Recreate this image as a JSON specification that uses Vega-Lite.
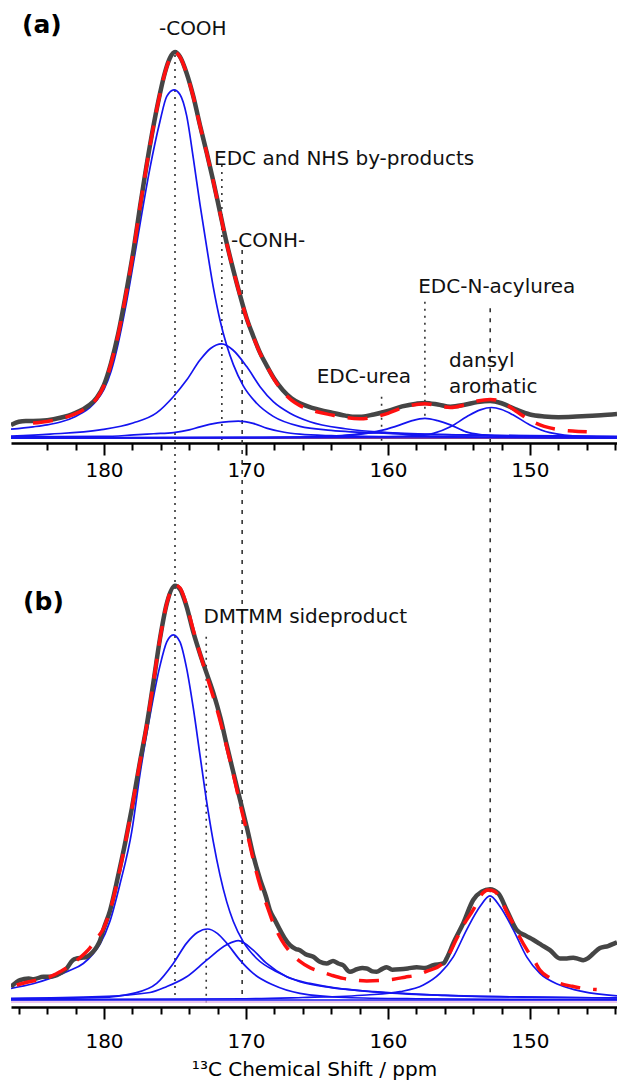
{
"$schema": "https://vega.github.io/schema/vega-lite/v6.json",
"width": 606,
"height": 1007,
"autosize": "none",
"padding": {"left": 11, "top": 0, "right": 0, "bottom": 77},
"background": "white",
"config": {
  "view": {"stroke": null},
  "axis": {"grid": false, "domainColor": "#000", "tickColor": "#000", "labelColor": "#000", "labelFont": "DejaVu Sans", "labelFontSize": 20, "titleFont": "DejaVu Sans", "titleColor": "#000", "domainWidth": 2.5, "tickWidth": 2}
},
"datasets": {
"curves": [
{"panel":"a","series":"exp","ppm":186.55,"intensity":3.4},{"panel":"a","series":"exp","ppm":186.0,"intensity":4.2},{"panel":"a","series":"exp","ppm":185.5,"intensity":4.4},{"panel":"a","series":"exp","ppm":185.0,"intensity":4.4},{"panel":"a","series":"exp","ppm":184.0,"intensity":4.6},{"panel":"a","series":"exp","ppm":183.0,"intensity":5.3},{"panel":"a","series":"exp","ppm":182.5,"intensity":5.8},{"panel":"a","series":"exp","ppm":182.0,"intensity":6.5},{"panel":"a","series":"exp","ppm":181.5,"intensity":7.4},{"panel":"a","series":"exp","ppm":181.0,"intensity":8.6},{"panel":"a","series":"exp","ppm":180.5,"intensity":10.5},{"panel":"a","series":"exp","ppm":180.0,"intensity":13.8},{"panel":"a","series":"exp","ppm":179.5,"intensity":19.5},{"panel":"a","series":"exp","ppm":179.0,"intensity":27.0},{"panel":"a","series":"exp","ppm":178.5,"intensity":36.5},{"panel":"a","series":"exp","ppm":177.92,"intensity":48.7},{"panel":"a","series":"exp","ppm":177.46,"intensity":60.0},{"panel":"a","series":"exp","ppm":176.76,"intensity":75.9},{"panel":"a","series":"exp","ppm":176.2,"intensity":86.8},{"panel":"a","series":"exp","ppm":175.7,"intensity":94.8},{"panel":"a","series":"exp","ppm":175.35,"intensity":98.5},{"panel":"a","series":"exp","ppm":175.0,"intensity":100},{"panel":"a","series":"exp","ppm":174.65,"intensity":98.8},{"panel":"a","series":"exp","ppm":174.18,"intensity":94.5},{"panel":"a","series":"exp","ppm":173.71,"intensity":88.5},{"panel":"a","series":"exp","ppm":173.24,"intensity":81},{"panel":"a","series":"exp","ppm":172.77,"intensity":74},{"panel":"a","series":"exp","ppm":172.3,"intensity":66.5},{"panel":"a","series":"exp","ppm":171.83,"intensity":58.5},{"panel":"a","series":"exp","ppm":171.36,"intensity":50.5},{"panel":"a","series":"exp","ppm":170.89,"intensity":43.5},{"panel":"a","series":"exp","ppm":170.42,"intensity":37},{"panel":"a","series":"exp","ppm":169.95,"intensity":31},{"panel":"a","series":"exp","ppm":169.5,"intensity":26.5},{"panel":"a","series":"exp","ppm":169.0,"intensity":22},{"panel":"a","series":"exp","ppm":168.5,"intensity":18.5},{"panel":"a","series":"exp","ppm":168.0,"intensity":15.3},{"panel":"a","series":"exp","ppm":167.4,"intensity":12.4},{"panel":"a","series":"exp","ppm":166.8,"intensity":10.3},{"panel":"a","series":"exp","ppm":166.2,"intensity":9.0},{"panel":"a","series":"exp","ppm":165.5,"intensity":8.0},{"panel":"a","series":"exp","ppm":165.0,"intensity":7.5},{"panel":"a","series":"exp","ppm":164.0,"intensity":6.6},{"panel":"a","series":"exp","ppm":163.0,"intensity":5.8},{"panel":"a","series":"exp","ppm":162.5,"intensity":5.5},{"panel":"a","series":"exp","ppm":162.0,"intensity":5.5},{"panel":"a","series":"exp","ppm":161.0,"intensity":6.1},{"panel":"a","series":"exp","ppm":160.0,"intensity":7.0},{"panel":"a","series":"exp","ppm":159.0,"intensity":8.2},{"panel":"a","series":"exp","ppm":158.0,"intensity":8.9},{"panel":"a","series":"exp","ppm":157.4,"intensity":9.1},{"panel":"a","series":"exp","ppm":156.5,"intensity":8.7},{"panel":"a","series":"exp","ppm":155.6,"intensity":8.1},{"panel":"a","series":"exp","ppm":154.6,"intensity":8.6},{"panel":"a","series":"exp","ppm":153.7,"intensity":9.3},{"panel":"a","series":"exp","ppm":152.8,"intensity":9.6},{"panel":"a","series":"exp","ppm":152.0,"intensity":9.0},{"panel":"a","series":"exp","ppm":151.0,"intensity":7.4},{"panel":"a","series":"exp","ppm":150.0,"intensity":6.1},{"panel":"a","series":"exp","ppm":149.0,"intensity":5.6},{"panel":"a","series":"exp","ppm":148.0,"intensity":5.4},{"panel":"a","series":"exp","ppm":147.0,"intensity":5.5},{"panel":"a","series":"exp","ppm":146.0,"intensity":5.7},{"panel":"a","series":"exp","ppm":145.0,"intensity":5.9},{"panel":"a","series":"exp","ppm":143.87,"intensity":6.2},

{"panel":"a","series":"fit","ppm":185.0,"intensity":3.9},{"panel":"a","series":"fit","ppm":184.0,"intensity":4.3},{"panel":"a","series":"fit","ppm":183.0,"intensity":5.0},{"panel":"a","series":"fit","ppm":182.5,"intensity":5.6},{"panel":"a","series":"fit","ppm":182.0,"intensity":6.3},{"panel":"a","series":"fit","ppm":181.5,"intensity":7.2},{"panel":"a","series":"fit","ppm":181.0,"intensity":8.4},{"panel":"a","series":"fit","ppm":180.5,"intensity":10.3},{"panel":"a","series":"fit","ppm":180.0,"intensity":13.6},{"panel":"a","series":"fit","ppm":179.5,"intensity":19.3},{"panel":"a","series":"fit","ppm":179.0,"intensity":26.8},{"panel":"a","series":"fit","ppm":178.5,"intensity":36.3},{"panel":"a","series":"fit","ppm":177.92,"intensity":48.6},{"panel":"a","series":"fit","ppm":177.46,"intensity":59.9},{"panel":"a","series":"fit","ppm":176.76,"intensity":75.8},{"panel":"a","series":"fit","ppm":176.2,"intensity":86.7},{"panel":"a","series":"fit","ppm":175.7,"intensity":94.7},{"panel":"a","series":"fit","ppm":175.35,"intensity":98.4},{"panel":"a","series":"fit","ppm":175.0,"intensity":99.9},{"panel":"a","series":"fit","ppm":174.65,"intensity":98.7},{"panel":"a","series":"fit","ppm":174.18,"intensity":94.4},{"panel":"a","series":"fit","ppm":173.71,"intensity":88.4},{"panel":"a","series":"fit","ppm":173.24,"intensity":80.9},{"panel":"a","series":"fit","ppm":172.77,"intensity":73.9},{"panel":"a","series":"fit","ppm":172.3,"intensity":66.4},{"panel":"a","series":"fit","ppm":171.83,"intensity":58.4},{"panel":"a","series":"fit","ppm":171.36,"intensity":50.4},{"panel":"a","series":"fit","ppm":170.89,"intensity":43.4},{"panel":"a","series":"fit","ppm":170.42,"intensity":36.9},{"panel":"a","series":"fit","ppm":169.95,"intensity":30.9},{"panel":"a","series":"fit","ppm":169.5,"intensity":26.4},{"panel":"a","series":"fit","ppm":169.0,"intensity":21.9},{"panel":"a","series":"fit","ppm":168.5,"intensity":18.4},{"panel":"a","series":"fit","ppm":168.0,"intensity":15.1},{"panel":"a","series":"fit","ppm":167.4,"intensity":12.0},{"panel":"a","series":"fit","ppm":166.8,"intensity":9.8},{"panel":"a","series":"fit","ppm":166.2,"intensity":8.4},{"panel":"a","series":"fit","ppm":165.5,"intensity":7.4},{"panel":"a","series":"fit","ppm":165.0,"intensity":6.8},{"panel":"a","series":"fit","ppm":164.0,"intensity":6.0},{"panel":"a","series":"fit","ppm":163.0,"intensity":5.3},{"panel":"a","series":"fit","ppm":162.0,"intensity":5.0},{"panel":"a","series":"fit","ppm":161.0,"intensity":5.4},{"panel":"a","series":"fit","ppm":160.0,"intensity":6.4},{"panel":"a","series":"fit","ppm":159.0,"intensity":7.8},{"panel":"a","series":"fit","ppm":158.0,"intensity":8.7},{"panel":"a","series":"fit","ppm":157.4,"intensity":8.9},{"panel":"a","series":"fit","ppm":156.5,"intensity":8.4},{"panel":"a","series":"fit","ppm":155.6,"intensity":7.9},{"panel":"a","series":"fit","ppm":154.6,"intensity":8.6},{"panel":"a","series":"fit","ppm":153.7,"intensity":9.6},{"panel":"a","series":"fit","ppm":152.8,"intensity":10.0},{"panel":"a","series":"fit","ppm":152.0,"intensity":9.4},{"panel":"a","series":"fit","ppm":151.0,"intensity":7.0},{"panel":"a","series":"fit","ppm":150.0,"intensity":4.6},{"panel":"a","series":"fit","ppm":149.0,"intensity":3.0},{"panel":"a","series":"fit","ppm":148.0,"intensity":2.2},{"panel":"a","series":"fit","ppm":147.0,"intensity":1.8},{"panel":"a","series":"fit","ppm":146.0,"intensity":1.6},

{"panel":"a","series":"C1","ppm":186.55,"intensity":2.3},{"panel":"a","series":"C1","ppm":185.0,"intensity":2.9},{"panel":"a","series":"C1","ppm":184.0,"intensity":3.4},{"panel":"a","series":"C1","ppm":183.0,"intensity":4.2},{"panel":"a","series":"C1","ppm":182.0,"intensity":5.6},{"panel":"a","series":"C1","ppm":181.5,"intensity":6.6},{"panel":"a","series":"C1","ppm":181.0,"intensity":7.9},{"panel":"a","series":"C1","ppm":180.5,"intensity":9.8},{"panel":"a","series":"C1","ppm":180.0,"intensity":12.6},{"panel":"a","series":"C1","ppm":179.5,"intensity":17.3},{"panel":"a","series":"C1","ppm":179.0,"intensity":24.5},{"panel":"a","series":"C1","ppm":178.5,"intensity":33.5},{"panel":"a","series":"C1","ppm":178.0,"intensity":43.8},{"panel":"a","series":"C1","ppm":177.46,"intensity":55.5},{"panel":"a","series":"C1","ppm":176.76,"intensity":70},{"panel":"a","series":"C1","ppm":176.06,"intensity":82},{"panel":"a","series":"C1","ppm":175.58,"intensity":88.5},{"panel":"a","series":"C1","ppm":175.07,"intensity":90.2},{"panel":"a","series":"C1","ppm":174.65,"intensity":89.0},{"panel":"a","series":"C1","ppm":174.18,"intensity":83.5},{"panel":"a","series":"C1","ppm":173.71,"intensity":72.5},{"panel":"a","series":"C1","ppm":173.24,"intensity":60.5},{"panel":"a","series":"C1","ppm":172.77,"intensity":49.5},{"panel":"a","series":"C1","ppm":172.3,"intensity":39.0},{"panel":"a","series":"C1","ppm":171.83,"intensity":30.5},{"panel":"a","series":"C1","ppm":171.36,"intensity":24.0},{"panel":"a","series":"C1","ppm":170.89,"intensity":19.0},{"panel":"a","series":"C1","ppm":170.19,"intensity":13.5},{"panel":"a","series":"C1","ppm":169.25,"intensity":9.0},{"panel":"a","series":"C1","ppm":168.08,"intensity":5.6},{"panel":"a","series":"C1","ppm":166.2,"intensity":3.0},{"panel":"a","series":"C1","ppm":164.0,"intensity":2.0},{"panel":"a","series":"C1","ppm":160.0,"intensity":1.2},{"panel":"a","series":"C1","ppm":155.0,"intensity":0.8},{"panel":"a","series":"C1","ppm":150.0,"intensity":0.6},{"panel":"a","series":"C1","ppm":143.87,"intensity":0.4},

{"panel":"a","series":"C2","ppm":186.55,"intensity":0.5},{"panel":"a","series":"C2","ppm":183.8,"intensity":1.0},{"panel":"a","series":"C2","ppm":180.28,"intensity":2.1},{"panel":"a","series":"C2","ppm":177.96,"intensity":3.9},{"panel":"a","series":"C2","ppm":176.3,"intensity":6.5},{"panel":"a","series":"C2","ppm":175.12,"intensity":10.7},{"panel":"a","series":"C2","ppm":174.18,"intensity":15.0},{"panel":"a","series":"C2","ppm":173.24,"intensity":20.2},{"panel":"a","series":"C2","ppm":172.5,"intensity":23.2},{"panel":"a","series":"C2","ppm":171.71,"intensity":24.4},{"panel":"a","series":"C2","ppm":170.92,"intensity":22.8},{"panel":"a","series":"C2","ppm":169.95,"intensity":18.5},{"panel":"a","series":"C2","ppm":169.01,"intensity":13.3},{"panel":"a","series":"C2","ppm":168.08,"intensity":9.4},{"panel":"a","series":"C2","ppm":166.9,"intensity":6.4},{"panel":"a","series":"C2","ppm":165.5,"intensity":4.2},{"panel":"a","series":"C2","ppm":163.0,"intensity":2.4},{"panel":"a","series":"C2","ppm":160.0,"intensity":1.4},{"panel":"a","series":"C2","ppm":155.0,"intensity":0.8},{"panel":"a","series":"C2","ppm":150.0,"intensity":0.5},{"panel":"a","series":"C2","ppm":143.87,"intensity":0.3},

{"panel":"a","series":"C3","ppm":186.55,"intensity":0.3},{"panel":"a","series":"C3","ppm":180.0,"intensity":0.4},{"panel":"a","series":"C3","ppm":177.9,"intensity":0.8},{"panel":"a","series":"C3","ppm":176.5,"intensity":1.1},{"panel":"a","series":"C3","ppm":175.1,"intensity":1.4},{"panel":"a","series":"C3","ppm":174.0,"intensity":2.1},{"panel":"a","series":"C3","ppm":173.24,"intensity":2.9},{"panel":"a","series":"C3","ppm":172.0,"intensity":3.9},{"panel":"a","series":"C3","ppm":170.54,"intensity":4.4},{"panel":"a","series":"C3","ppm":169.5,"intensity":3.8},{"panel":"a","series":"C3","ppm":168.5,"intensity":2.5},{"panel":"a","series":"C3","ppm":167.3,"intensity":1.5},{"panel":"a","series":"C3","ppm":166.2,"intensity":1.0},{"panel":"a","series":"C3","ppm":164.0,"intensity":0.6},{"panel":"a","series":"C3","ppm":160.0,"intensity":0.35},{"panel":"a","series":"C3","ppm":150.0,"intensity":0.2},{"panel":"a","series":"C3","ppm":143.87,"intensity":0.15},

{"panel":"a","series":"C4","ppm":186.55,"intensity":0.05},{"panel":"a","series":"C4","ppm":170.0,"intensity":0.1},{"panel":"a","series":"C4","ppm":166.0,"intensity":0.2},{"panel":"a","series":"C4","ppm":164.0,"intensity":0.5},{"panel":"a","series":"C4","ppm":162.5,"intensity":0.9},{"panel":"a","series":"C4","ppm":161.3,"intensity":1.3},{"panel":"a","series":"C4","ppm":160.5,"intensity":1.4},{"panel":"a","series":"C4","ppm":159.5,"intensity":1.2},{"panel":"a","series":"C4","ppm":158.5,"intensity":0.8},{"panel":"a","series":"C4","ppm":157.0,"intensity":0.4},{"panel":"a","series":"C4","ppm":155.0,"intensity":0.2},{"panel":"a","series":"C4","ppm":150.0,"intensity":0.1},{"panel":"a","series":"C4","ppm":143.87,"intensity":0.05},

{"panel":"a","series":"C5","ppm":186.55,"intensity":0.05},{"panel":"a","series":"C5","ppm":170.0,"intensity":0.15},{"panel":"a","series":"C5","ppm":165.0,"intensity":0.3},{"panel":"a","series":"C5","ppm":163.0,"intensity":0.6},{"panel":"a","series":"C5","ppm":161.5,"intensity":1.2},{"panel":"a","series":"C5","ppm":160.3,"intensity":2.1},{"panel":"a","series":"C5","ppm":159.15,"intensity":3.4},{"panel":"a","series":"C5","ppm":158.3,"intensity":4.5},{"panel":"a","series":"C5","ppm":157.4,"intensity":5.1},{"panel":"a","series":"C5","ppm":156.5,"intensity":4.5},{"panel":"a","series":"C5","ppm":155.6,"intensity":3.4},{"panel":"a","series":"C5","ppm":154.5,"intensity":1.6},{"panel":"a","series":"C5","ppm":153.3,"intensity":0.8},{"panel":"a","series":"C5","ppm":151.5,"intensity":0.35},{"panel":"a","series":"C5","ppm":148.0,"intensity":0.15},{"panel":"a","series":"C5","ppm":143.87,"intensity":0.05},

{"panel":"a","series":"C6","ppm":186.55,"intensity":0.05},{"panel":"a","series":"C6","ppm":165.0,"intensity":0.15},{"panel":"a","series":"C6","ppm":160.0,"intensity":0.3},{"panel":"a","series":"C6","ppm":158.0,"intensity":0.6},{"panel":"a","series":"C6","ppm":156.8,"intensity":1.2},{"panel":"a","series":"C6","ppm":155.6,"intensity":2.9},{"panel":"a","series":"C6","ppm":154.46,"intensity":5.5},{"panel":"a","series":"C6","ppm":153.5,"intensity":7.3},{"panel":"a","series":"C6","ppm":152.7,"intensity":7.9},{"panel":"a","series":"C6","ppm":152.0,"intensity":7.4},{"panel":"a","series":"C6","ppm":151.2,"intensity":6.0},{"panel":"a","series":"C6","ppm":150.0,"intensity":3.4},{"panel":"a","series":"C6","ppm":148.6,"intensity":1.4},{"panel":"a","series":"C6","ppm":146.3,"intensity":0.4},{"panel":"a","series":"C6","ppm":143.87,"intensity":0.2},

{"panel":"a","series":"baseline","ppm":186.55,"intensity":0},{"panel":"a","series":"baseline","ppm":143.87,"intensity":0},

{"panel":"b","series":"exp","ppm":186.55,"intensity":3.2},{"panel":"b","series":"exp","ppm":185.92,"intensity":4.8},{"panel":"b","series":"exp","ppm":185.3,"intensity":5.2},{"panel":"b","series":"exp","ppm":184.98,"intensity":5.0},{"panel":"b","series":"exp","ppm":184.27,"intensity":5.6},{"panel":"b","series":"exp","ppm":183.8,"intensity":5.6},{"panel":"b","series":"exp","ppm":183.33,"intensity":6.0},{"panel":"b","series":"exp","ppm":182.63,"intensity":7.6},{"panel":"b","series":"exp","ppm":182.2,"intensity":9.6},{"panel":"b","series":"exp","ppm":181.92,"intensity":10.0},{"panel":"b","series":"exp","ppm":181.5,"intensity":10.2},{"panel":"b","series":"exp","ppm":181.22,"intensity":10.4},{"panel":"b","series":"exp","ppm":180.8,"intensity":11.5},{"panel":"b","series":"exp","ppm":180.51,"intensity":12.8},{"panel":"b","series":"exp","ppm":180.28,"intensity":14.3},{"panel":"b","series":"exp","ppm":180.05,"intensity":16.9},{"panel":"b","series":"exp","ppm":179.58,"intensity":21.5},{"panel":"b","series":"exp","ppm":179.0,"intensity":30.0},{"panel":"b","series":"exp","ppm":178.5,"intensity":38.0},{"panel":"b","series":"exp","ppm":178.05,"intensity":46.0},{"panel":"b","series":"exp","ppm":177.46,"intensity":57.5},{"panel":"b","series":"exp","ppm":177.0,"intensity":66.0},{"panel":"b","series":"exp","ppm":176.5,"intensity":77.0},{"panel":"b","series":"exp","ppm":176.06,"intensity":87.0},{"panel":"b","series":"exp","ppm":175.58,"intensity":95.5},{"panel":"b","series":"exp","ppm":175.0,"intensity":99.8},{"panel":"b","series":"exp","ppm":174.65,"intensity":99.0},{"panel":"b","series":"exp","ppm":174.2,"intensity":95.0},{"panel":"b","series":"exp","ppm":173.7,"intensity":88.5},{"panel":"b","series":"exp","ppm":173.2,"intensity":83.0},{"panel":"b","series":"exp","ppm":172.8,"intensity":79.0},{"panel":"b","series":"exp","ppm":172.3,"intensity":74.0},{"panel":"b","series":"exp","ppm":171.8,"intensity":68.0},{"panel":"b","series":"exp","ppm":171.36,"intensity":61.5},{"panel":"b","series":"exp","ppm":170.9,"intensity":55.0},{"panel":"b","series":"exp","ppm":170.4,"intensity":48.0},{"panel":"b","series":"exp","ppm":169.9,"intensity":41.0},{"panel":"b","series":"exp","ppm":169.5,"intensity":35.0},{"panel":"b","series":"exp","ppm":169.0,"intensity":29.0},{"panel":"b","series":"exp","ppm":168.6,"intensity":25.0},{"panel":"b","series":"exp","ppm":168.3,"intensity":21.5},{"panel":"b","series":"exp","ppm":168.0,"intensity":19.5},{"panel":"b","series":"exp","ppm":167.7,"intensity":17.5},{"panel":"b","series":"exp","ppm":167.3,"intensity":15.0},{"panel":"b","series":"exp","ppm":166.9,"intensity":13.2},{"panel":"b","series":"exp","ppm":166.5,"intensity":12.3},{"panel":"b","series":"exp","ppm":166.2,"intensity":12.0},{"panel":"b","series":"exp","ppm":165.8,"intensity":11.0},{"panel":"b","series":"exp","ppm":165.26,"intensity":10.4},{"panel":"b","series":"exp","ppm":164.8,"intensity":9.2},{"panel":"b","series":"exp","ppm":164.32,"intensity":8.8},{"panel":"b","series":"exp","ppm":163.87,"intensity":9.4},{"panel":"b","series":"exp","ppm":163.5,"intensity":8.8},{"panel":"b","series":"exp","ppm":163.17,"intensity":8.4},{"panel":"b","series":"exp","ppm":162.68,"intensity":6.8},{"panel":"b","series":"exp","ppm":162.2,"intensity":7.4},{"panel":"b","series":"exp","ppm":161.8,"intensity":7.7},{"panel":"b","series":"exp","ppm":161.5,"intensity":7.6},{"panel":"b","series":"exp","ppm":161.1,"intensity":6.9},{"panel":"b","series":"exp","ppm":160.8,"intensity":6.8},{"panel":"b","series":"exp","ppm":160.4,"intensity":7.5},{"panel":"b","series":"exp","ppm":160.09,"intensity":7.9},{"panel":"b","series":"exp","ppm":159.7,"intensity":7.3},{"panel":"b","series":"exp","ppm":159.15,"intensity":7.4},{"panel":"b","series":"exp","ppm":158.6,"intensity":7.6},{"panel":"b","series":"exp","ppm":157.98,"intensity":7.9},{"panel":"b","series":"exp","ppm":157.4,"intensity":7.7},{"panel":"b","series":"exp","ppm":156.81,"intensity":8.4},{"panel":"b","series":"exp","ppm":156.1,"intensity":8.8},{"panel":"b","series":"exp","ppm":155.8,"intensity":10.5},{"panel":"b","series":"exp","ppm":155.4,"intensity":13.7},{"panel":"b","series":"exp","ppm":154.7,"intensity":18.5},{"panel":"b","series":"exp","ppm":154.0,"intensity":24.1},{"panel":"b","series":"exp","ppm":153.4,"intensity":26.1},{"panel":"b","series":"exp","ppm":152.82,"intensity":26.7},{"panel":"b","series":"exp","ppm":152.23,"intensity":25.7},{"panel":"b","series":"exp","ppm":151.64,"intensity":21.7},{"panel":"b","series":"exp","ppm":150.94,"intensity":16.9},{"panel":"b","series":"exp","ppm":150.3,"intensity":15.5},{"panel":"b","series":"exp","ppm":149.77,"intensity":14.5},{"panel":"b","series":"exp","ppm":149.2,"intensity":13.3},{"panel":"b","series":"exp","ppm":148.59,"intensity":12.0},{"panel":"b","series":"exp","ppm":147.89,"intensity":10.0},{"panel":"b","series":"exp","ppm":147.4,"intensity":10.0},{"panel":"b","series":"exp","ppm":146.95,"intensity":10.2},{"panel":"b","series":"exp","ppm":146.6,"intensity":9.9},{"panel":"b","series":"exp","ppm":146.25,"intensity":9.6},{"panel":"b","series":"exp","ppm":145.9,"intensity":10.1},{"panel":"b","series":"exp","ppm":145.54,"intensity":11.2},{"panel":"b","series":"exp","ppm":145.07,"intensity":12.5},{"panel":"b","series":"exp","ppm":144.5,"intensity":13.0},{"panel":"b","series":"exp","ppm":144.01,"intensity":13.7},{"panel":"b","series":"exp","ppm":143.87,"intensity":13.9},

{"panel":"b","series":"fit","ppm":186.15,"intensity":3.6},{"panel":"b","series":"fit","ppm":185.5,"intensity":4.2},{"panel":"b","series":"fit","ppm":184.5,"intensity":5.0},{"panel":"b","series":"fit","ppm":183.8,"intensity":5.6},{"panel":"b","series":"fit","ppm":183.1,"intensity":6.8},{"panel":"b","series":"fit","ppm":182.5,"intensity":8.0},{"panel":"b","series":"fit","ppm":181.9,"intensity":9.6},{"panel":"b","series":"fit","ppm":181.0,"intensity":12.5},{"panel":"b","series":"fit","ppm":180.5,"intensity":14.8},{"panel":"b","series":"fit","ppm":180.0,"intensity":17.5},{"panel":"b","series":"fit","ppm":179.5,"intensity":22.5},{"panel":"b","series":"fit","ppm":179.0,"intensity":29.5},{"panel":"b","series":"fit","ppm":178.5,"intensity":37.8},{"panel":"b","series":"fit","ppm":178.05,"intensity":46.0},{"panel":"b","series":"fit","ppm":177.46,"intensity":57.5},{"panel":"b","series":"fit","ppm":177.0,"intensity":66.0},{"panel":"b","series":"fit","ppm":176.5,"intensity":77.0},{"panel":"b","series":"fit","ppm":176.06,"intensity":87.0},{"panel":"b","series":"fit","ppm":175.58,"intensity":95.5},{"panel":"b","series":"fit","ppm":175.0,"intensity":100},{"panel":"b","series":"fit","ppm":174.65,"intensity":99.3},{"panel":"b","series":"fit","ppm":174.2,"intensity":95.3},{"panel":"b","series":"fit","ppm":173.7,"intensity":89.0},{"panel":"b","series":"fit","ppm":173.2,"intensity":83.0},{"panel":"b","series":"fit","ppm":172.8,"intensity":78.5},{"panel":"b","series":"fit","ppm":172.3,"intensity":73.0},{"panel":"b","series":"fit","ppm":171.8,"intensity":67.0},{"panel":"b","series":"fit","ppm":171.36,"intensity":61.0},{"panel":"b","series":"fit","ppm":170.9,"intensity":54.5},{"panel":"b","series":"fit","ppm":170.4,"intensity":47.0},{"panel":"b","series":"fit","ppm":169.9,"intensity":40.0},{"panel":"b","series":"fit","ppm":169.5,"intensity":34.0},{"panel":"b","series":"fit","ppm":169.0,"intensity":27.5},{"panel":"b","series":"fit","ppm":168.5,"intensity":22.5},{"panel":"b","series":"fit","ppm":168.08,"intensity":18.5},{"panel":"b","series":"fit","ppm":167.5,"intensity":14.5},{"panel":"b","series":"fit","ppm":167.0,"intensity":12.0},{"panel":"b","series":"fit","ppm":166.2,"intensity":9.3},{"panel":"b","series":"fit","ppm":165.5,"intensity":7.8},{"panel":"b","series":"fit","ppm":164.8,"intensity":6.9},{"panel":"b","series":"fit","ppm":164.0,"intensity":6.0},{"panel":"b","series":"fit","ppm":163.15,"intensity":5.2},{"panel":"b","series":"fit","ppm":162.3,"intensity":4.8},{"panel":"b","series":"fit","ppm":161.5,"intensity":4.6},{"panel":"b","series":"fit","ppm":160.5,"intensity":4.7},{"panel":"b","series":"fit","ppm":159.6,"intensity":5.0},{"panel":"b","series":"fit","ppm":158.8,"intensity":5.5},{"panel":"b","series":"fit","ppm":158.0,"intensity":6.0},{"panel":"b","series":"fit","ppm":157.2,"intensity":7.0},{"panel":"b","series":"fit","ppm":156.3,"intensity":8.4},{"panel":"b","series":"fit","ppm":155.7,"intensity":11.0},{"panel":"b","series":"fit","ppm":155.2,"intensity":14.5},{"panel":"b","series":"fit","ppm":154.6,"intensity":18.5},{"panel":"b","series":"fit","ppm":154.0,"intensity":21.7},{"panel":"b","series":"fit","ppm":153.5,"intensity":25.0},{"panel":"b","series":"fit","ppm":152.94,"intensity":26.5},{"panel":"b","series":"fit","ppm":152.5,"intensity":26.2},{"panel":"b","series":"fit","ppm":152.1,"intensity":24.5},{"panel":"b","series":"fit","ppm":151.6,"intensity":21.0},{"panel":"b","series":"fit","ppm":151.2,"intensity":18.5},{"panel":"b","series":"fit","ppm":150.7,"intensity":15.0},{"panel":"b","series":"fit","ppm":150.2,"intensity":12.0},{"panel":"b","series":"fit","ppm":149.7,"intensity":9.5},{"panel":"b","series":"fit","ppm":149.3,"intensity":7.2},{"panel":"b","series":"fit","ppm":148.6,"intensity":5.3},{"panel":"b","series":"fit","ppm":147.9,"intensity":4.0},{"panel":"b","series":"fit","ppm":147.0,"intensity":3.3},{"panel":"b","series":"fit","ppm":146.25,"intensity":2.8},{"panel":"b","series":"fit","ppm":145.3,"intensity":2.5},

{"panel":"b","series":"C1","ppm":186.55,"intensity":2.8},{"panel":"b","series":"C1","ppm":185.0,"intensity":3.9},{"panel":"b","series":"C1","ppm":183.8,"intensity":5.2},{"panel":"b","series":"C1","ppm":182.5,"intensity":7.0},{"panel":"b","series":"C1","ppm":181.46,"intensity":8.8},{"panel":"b","series":"C1","ppm":180.8,"intensity":11.0},{"panel":"b","series":"C1","ppm":180.28,"intensity":13.5},{"panel":"b","series":"C1","ppm":179.58,"intensity":19.0},{"panel":"b","series":"C1","ppm":178.87,"intensity":28.0},{"panel":"b","series":"C1","ppm":178.05,"intensity":40.5},{"panel":"b","series":"C1","ppm":177.46,"intensity":54.5},{"panel":"b","series":"C1","ppm":176.76,"intensity":68.5},{"panel":"b","series":"C1","ppm":176.06,"intensity":80.5},{"panel":"b","series":"C1","ppm":175.58,"intensity":86.3},{"panel":"b","series":"C1","ppm":175.12,"intensity":88.0},{"panel":"b","series":"C1","ppm":174.65,"intensity":86.3},{"panel":"b","series":"C1","ppm":174.18,"intensity":79.9},{"panel":"b","series":"C1","ppm":173.71,"intensity":70.3},{"panel":"b","series":"C1","ppm":173.24,"intensity":59.0},{"panel":"b","series":"C1","ppm":172.77,"intensity":47.8},{"panel":"b","series":"C1","ppm":172.3,"intensity":38.1},{"panel":"b","series":"C1","ppm":171.83,"intensity":30.1},{"panel":"b","series":"C1","ppm":171.36,"intensity":23.7},{"panel":"b","series":"C1","ppm":170.89,"intensity":18.9},{"panel":"b","series":"C1","ppm":170.19,"intensity":14.0},{"panel":"b","series":"C1","ppm":169.25,"intensity":10.0},{"panel":"b","series":"C1","ppm":167.84,"intensity":6.8},{"panel":"b","series":"C1","ppm":166.2,"intensity":4.4},{"panel":"b","series":"C1","ppm":164.0,"intensity":3.0},{"panel":"b","series":"C1","ppm":161.0,"intensity":2.0},{"panel":"b","series":"C1","ppm":158.0,"intensity":1.4},{"panel":"b","series":"C1","ppm":155.0,"intensity":1.0},{"panel":"b","series":"C1","ppm":150.0,"intensity":0.7},{"panel":"b","series":"C1","ppm":143.87,"intensity":0.5},

{"panel":"b","series":"C2","ppm":186.55,"intensity":0.2},{"panel":"b","series":"C2","ppm":180.3,"intensity":0.6},{"panel":"b","series":"C2","ppm":177.94,"intensity":1.6},{"panel":"b","series":"C2","ppm":176.29,"intensity":4.0},{"panel":"b","series":"C2","ppm":175.12,"intensity":8.8},{"panel":"b","series":"C2","ppm":174.18,"intensity":13.7},{"panel":"b","series":"C2","ppm":173.4,"intensity":16.3},{"panel":"b","series":"C2","ppm":172.72,"intensity":17.1},{"panel":"b","series":"C2","ppm":172.0,"intensity":16.0},{"panel":"b","series":"C2","ppm":171.36,"intensity":13.7},{"panel":"b","series":"C2","ppm":170.42,"intensity":9.6},{"panel":"b","series":"C2","ppm":169.49,"intensity":6.4},{"panel":"b","series":"C2","ppm":168.08,"intensity":3.6},{"panel":"b","series":"C2","ppm":166.2,"intensity":1.6},{"panel":"b","series":"C2","ppm":163.0,"intensity":0.6},{"panel":"b","series":"C2","ppm":158.0,"intensity":0.3},{"panel":"b","series":"C2","ppm":150.0,"intensity":0.15},{"panel":"b","series":"C2","ppm":143.87,"intensity":0.1},

{"panel":"b","series":"C3","ppm":186.55,"intensity":0.4},{"panel":"b","series":"C3","ppm":180.3,"intensity":0.8},{"panel":"b","series":"C3","ppm":176.76,"intensity":1.8},{"panel":"b","series":"C3","ppm":175.6,"intensity":3.2},{"panel":"b","series":"C3","ppm":174.18,"intensity":5.6},{"panel":"b","series":"C3","ppm":172.77,"intensity":9.6},{"panel":"b","series":"C3","ppm":171.36,"intensity":13.3},{"panel":"b","series":"C3","ppm":170.54,"intensity":14.3},{"panel":"b","series":"C3","ppm":169.49,"intensity":12.0},{"panel":"b","series":"C3","ppm":168.54,"intensity":8.8},{"panel":"b","series":"C3","ppm":167.13,"intensity":5.6},{"panel":"b","series":"C3","ppm":165.5,"intensity":4.0},{"panel":"b","series":"C3","ppm":163.0,"intensity":2.6},{"panel":"b","series":"C3","ppm":160.0,"intensity":1.7},{"panel":"b","series":"C3","ppm":156.0,"intensity":1.1},{"panel":"b","series":"C3","ppm":150.0,"intensity":0.7},{"panel":"b","series":"C3","ppm":143.87,"intensity":0.5},

{"panel":"b","series":"C4","ppm":186.55,"intensity":0.1},{"panel":"b","series":"C4","ppm":170.0,"intensity":0.3},{"panel":"b","series":"C4","ppm":166.0,"intensity":0.6},{"panel":"b","series":"C4","ppm":163.0,"intensity":0.9},{"panel":"b","series":"C4","ppm":161.5,"intensity":1.2},{"panel":"b","series":"C4","ppm":159.15,"intensity":2.0},{"panel":"b","series":"C4","ppm":157.51,"intensity":3.6},{"panel":"b","series":"C4","ppm":156.34,"intensity":6.4},{"panel":"b","series":"C4","ppm":155.4,"intensity":10.4},{"panel":"b","series":"C4","ppm":154.46,"intensity":16.9},{"panel":"b","series":"C4","ppm":153.52,"intensity":22.5},{"panel":"b","series":"C4","ppm":152.82,"intensity":25.1},{"panel":"b","series":"C4","ppm":152.11,"intensity":22.5},{"panel":"b","series":"C4","ppm":151.17,"intensity":16.9},{"panel":"b","series":"C4","ppm":150.23,"intensity":10.4},{"panel":"b","series":"C4","ppm":149.3,"intensity":6.4},{"panel":"b","series":"C4","ppm":147.9,"intensity":3.6},{"panel":"b","series":"C4","ppm":146.25,"intensity":2.0},{"panel":"b","series":"C4","ppm":143.87,"intensity":1.0},

{"panel":"b","series":"baseline","ppm":186.55,"intensity":0},{"panel":"b","series":"baseline","ppm":143.87,"intensity":0},
{"panel":"b","series":"offset","ppm":186.55,"intensity":-0.5},{"panel":"b","series":"offset","ppm":143.87,"intensity":-0.5}
],
"rules": [
{"panel":"a","ppm":171.7,"top":70.7,"bottom":-1.0,"kind":"dotted"},
{"panel":"a","ppm":160.45,"top":10.7,"bottom":-1.3,"kind":"dotted"},
{"panel":"a","ppm":157.4,"top":35.3,"bottom":5.5,"kind":"dotted"},
{"panel":"b","ppm":175.0,"top":227.7,"bottom":0.5,"kind":"dotted"},
{"panel":"b","ppm":170.27,"top":180.7,"bottom":0.8,"kind":"dashed"},
{"panel":"b","ppm":152.8,"top":166.7,"bottom":1.2,"kind":"dashed"},
{"panel":"b","ppm":172.8,"top":87.5,"bottom":-1.7,"kind":"dotted"}
],
"labels": [
{"panel":"a","weight":"normal","label":"-COOH","ppm":176.13,"intensity":104.4},
{"panel":"a","weight":"normal","label":"EDC and NHS by-products","ppm":172.25,"intensity":70.7},
{"panel":"a","weight":"normal","label":"-CONH-","ppm":171.05,"intensity":49.6},
{"panel":"a","weight":"normal","label":"EDC-urea","ppm":165.02,"intensity":14.2},
{"panel":"a","weight":"normal","label":"EDC-N-acylurea","ppm":157.87,"intensity":37.5},
{"panel":"a","weight":"normal","label":"dansyl","ppm":155.7,"intensity":18.5},
{"panel":"a","weight":"normal","label":"aromatic","ppm":155.7,"intensity":11.7},
{"panel":"a","weight":"bold","label":"(a)","ppm":185.77,"intensity":104.8},
{"panel":"b","weight":"normal","label":"DMTMM sideproduct","ppm":173.0,"intensity":90.9},
{"panel":"b","weight":"bold","label":"(b)","ppm":185.7,"intensity":94.0}
]
},
"resolve": {"scale": {"x": "shared", "y": "independent"}, "axis": {"x": "independent", "y": "independent"}},
"layer": [
{"data": {"name": "rules"}, "transform": [{"filter": "datum.panel === 'a'"}],
 "mark": {"type": "rule", "color": "#333333", "strokeWidth": 1.6},
 "encoding": {
  "x": {"field": "ppm", "type": "quantitative", "scale": {"domain": [143.87, 186.55], "reverse": true, "nice": false, "zero": false}, "axis": null},
  "y": {"field": "top", "type": "quantitative", "scale": {"domain": [-147.4, 113.47], "nice": false, "zero": false}, "axis": null},
  "y2": {"field": "bottom"},
  "strokeDash": {"field": "kind", "type": "nominal", "scale": {"domain": ["dotted", "dashed"], "range": [[2, 5], [4, 6]]}, "legend": null}}},
{"data": {"name": "rules"}, "transform": [{"filter": "datum.panel === 'b'"}],
 "mark": {"type": "rule", "color": "#333333", "strokeWidth": 1.6},
 "encoding": {
  "x": {"field": "ppm", "type": "quantitative", "scale": {"domain": [143.87, 186.55], "reverse": true, "nice": false, "zero": false}, "axis": null},
  "y": {"field": "top", "type": "quantitative", "scale": {"domain": [-1.69, 240.96], "nice": false, "zero": false}, "axis": null},
  "y2": {"field": "bottom"},
  "strokeDash": {"field": "kind", "type": "nominal", "scale": {"domain": ["dotted", "dashed"], "range": [[2, 5], [4, 6]]}, "legend": null}}},
{"data": {"name": "curves"}, "transform": [{"filter": "datum.panel === 'a' && datum.series === 'baseline'"}],
 "mark": {"type": "line", "color": "#7b3fa0", "strokeWidth": 2, "clip": true},
 "encoding": {
  "x": {"field": "ppm", "type": "quantitative", "scale": {"domain": [143.87, 186.55], "reverse": true, "nice": false, "zero": false}, "axis": null},
  "y": {"field": "intensity", "type": "quantitative", "scale": {"domain": [-147.4, 113.47], "nice": false, "zero": false}, "axis": null}}},
{"data": {"name": "curves"}, "transform": [{"filter": "datum.panel === 'a' && indexof(['C1','C2','C3','C4','C5','C6'], datum.series) >= 0"}],
 "mark": {"type": "line", "color": "#1414f0", "strokeWidth": 1.7, "interpolate": "monotone", "clip": true},
 "encoding": {
  "x": {"field": "ppm", "type": "quantitative", "scale": {"domain": [143.87, 186.55], "reverse": true, "nice": false, "zero": false}, "axis": null},
  "y": {"field": "intensity", "type": "quantitative", "scale": {"domain": [-147.4, 113.47], "nice": false, "zero": false}, "axis": null},
  "detail": {"field": "series", "type": "nominal"}}},
{"data": {"name": "curves"}, "transform": [{"filter": "datum.panel === 'b' && datum.series === 'offset'"}],
 "mark": {"type": "line", "color": "#e6b3e6", "strokeWidth": 1.5, "clip": true},
 "encoding": {
  "x": {"field": "ppm", "type": "quantitative", "scale": {"domain": [143.87, 186.55], "reverse": true, "nice": false, "zero": false}, "axis": null},
  "y": {"field": "intensity", "type": "quantitative", "scale": {"domain": [-1.69, 240.96], "nice": false, "zero": false}, "axis": null}}},
{"data": {"name": "curves"}, "transform": [{"filter": "datum.panel === 'b' && indexof(['C1','C2','C3','C4','baseline'], datum.series) >= 0"}],
 "mark": {"type": "line", "color": "#1414f0", "strokeWidth": 1.7, "interpolate": "monotone", "clip": true},
 "encoding": {
  "x": {"field": "ppm", "type": "quantitative", "scale": {"domain": [143.87, 186.55], "reverse": true, "nice": false, "zero": false}, "axis": null},
  "y": {"field": "intensity", "type": "quantitative", "scale": {"domain": [-1.69, 240.96], "nice": false, "zero": false}, "axis": null},
  "detail": {"field": "series", "type": "nominal"}}},
{"data": {"name": "curves"}, "transform": [{"filter": "datum.panel === 'a' && datum.series === 'exp'"}],
 "mark": {"type": "line", "color": "#454545", "strokeWidth": 4.5, "interpolate": "monotone", "clip": true},
 "encoding": {
  "x": {"field": "ppm", "type": "quantitative", "scale": {"domain": [143.87, 186.55], "reverse": true, "nice": false, "zero": false},
        "axis": {"orient": "bottom", "offset": -564, "values": [180, 170, 160, 150], "tickSize": 12, "labelPadding": 5, "title": null}},
  "y": {"field": "intensity", "type": "quantitative", "scale": {"domain": [-147.4, 113.47], "nice": false, "zero": false}, "axis": null}}},
{"data": {"name": "curves"}, "transform": [{"filter": "datum.panel === 'a' && datum.series === 'fit'"}],
 "mark": {"type": "line", "color": "#ff1010", "strokeWidth": 3.5, "strokeDash": [20, 13], "interpolate": "monotone", "clip": true},
 "encoding": {
  "x": {"field": "ppm", "type": "quantitative", "scale": {"domain": [143.87, 186.55], "reverse": true, "nice": false, "zero": false},
        "axis": {"orient": "bottom", "offset": -564, "values": [184, 182, 178, 176, 174, 172, 168, 166, 164, 162, 158, 156, 154, 152, 148, 146, 144], "tickSize": 7, "labels": false, "domain": false, "title": null}},
  "y": {"field": "intensity", "type": "quantitative", "scale": {"domain": [-147.4, 113.47], "nice": false, "zero": false}, "axis": null}}},
{"data": {"name": "curves"}, "transform": [{"filter": "datum.panel === 'b' && datum.series === 'exp'"}],
 "mark": {"type": "line", "color": "#454545", "strokeWidth": 4.5, "interpolate": "monotone", "clip": true},
 "encoding": {
  "x": {"field": "ppm", "type": "quantitative", "scale": {"domain": [143.87, 186.55], "reverse": true, "nice": false, "zero": false},
        "axis": {"orient": "bottom", "offset": 0, "values": [180, 170, 160, 150], "tickSize": 12, "labelPadding": 12, "title": "¹³C Chemical Shift / ppm", "titleFontSize": 20, "titleFontWeight": "normal", "titlePadding": 8}},
  "y": {"field": "intensity", "type": "quantitative", "scale": {"domain": [-1.69, 240.96], "nice": false, "zero": false}, "axis": null}}},
{"data": {"name": "curves"}, "transform": [{"filter": "datum.panel === 'b' && datum.series === 'fit'"}],
 "mark": {"type": "line", "color": "#ff1010", "strokeWidth": 3.5, "strokeDash": [20, 13], "interpolate": "monotone", "clip": true},
 "encoding": {
  "x": {"field": "ppm", "type": "quantitative", "scale": {"domain": [143.87, 186.55], "reverse": true, "nice": false, "zero": false},
        "axis": {"orient": "bottom", "offset": 0, "values": [186, 184, 182, 178, 176, 174, 172, 168, 166, 164, 162, 158, 156, 154, 152, 148, 146, 144], "tickSize": 7, "labels": false, "domain": false, "title": null}},
  "y": {"field": "intensity", "type": "quantitative", "scale": {"domain": [-1.69, 240.96], "nice": false, "zero": false}, "axis": null}}},
{"data": {"name": "labels"}, "transform": [{"filter": "datum.panel === 'a' && datum.weight === 'normal'"}],
 "mark": {"type": "text", "align": "left", "baseline": "alphabetic", "font": "DejaVu Sans", "fontSize": 20, "color": "#111111"},
 "encoding": {
  "x": {"field": "ppm", "type": "quantitative", "scale": {"domain": [143.87, 186.55], "reverse": true, "nice": false, "zero": false}, "axis": null},
  "y": {"field": "intensity", "type": "quantitative", "scale": {"domain": [-147.4, 113.47], "nice": false, "zero": false}, "axis": null},
  "text": {"field": "label"}}},
{"data": {"name": "labels"}, "transform": [{"filter": "datum.panel === 'b' && datum.weight === 'normal'"}],
 "mark": {"type": "text", "align": "left", "baseline": "alphabetic", "font": "DejaVu Sans", "fontSize": 20, "color": "#111111"},
 "encoding": {
  "x": {"field": "ppm", "type": "quantitative", "scale": {"domain": [143.87, 186.55], "reverse": true, "nice": false, "zero": false}, "axis": null},
  "y": {"field": "intensity", "type": "quantitative", "scale": {"domain": [-1.69, 240.96], "nice": false, "zero": false}, "axis": null},
  "text": {"field": "label"}}},
{"data": {"name": "labels"}, "transform": [{"filter": "datum.panel === 'a' && datum.weight === 'bold'"}],
 "mark": {"type": "text", "align": "left", "baseline": "alphabetic", "font": "DejaVu Sans", "fontSize": 25, "fontWeight": "bold", "color": "#000000"},
 "encoding": {
  "x": {"field": "ppm", "type": "quantitative", "scale": {"domain": [143.87, 186.55], "reverse": true, "nice": false, "zero": false}, "axis": null},
  "y": {"field": "intensity", "type": "quantitative", "scale": {"domain": [-147.4, 113.47], "nice": false, "zero": false}, "axis": null},
  "text": {"field": "label"}}},
{"data": {"name": "labels"}, "transform": [{"filter": "datum.panel === 'b' && datum.weight === 'bold'"}],
 "mark": {"type": "text", "align": "left", "baseline": "alphabetic", "font": "DejaVu Sans", "fontSize": 25, "fontWeight": "bold", "color": "#000000"},
 "encoding": {
  "x": {"field": "ppm", "type": "quantitative", "scale": {"domain": [143.87, 186.55], "reverse": true, "nice": false, "zero": false}, "axis": null},
  "y": {"field": "intensity", "type": "quantitative", "scale": {"domain": [-1.69, 240.96], "nice": false, "zero": false}, "axis": null},
  "text": {"field": "label"}}}
]
}
